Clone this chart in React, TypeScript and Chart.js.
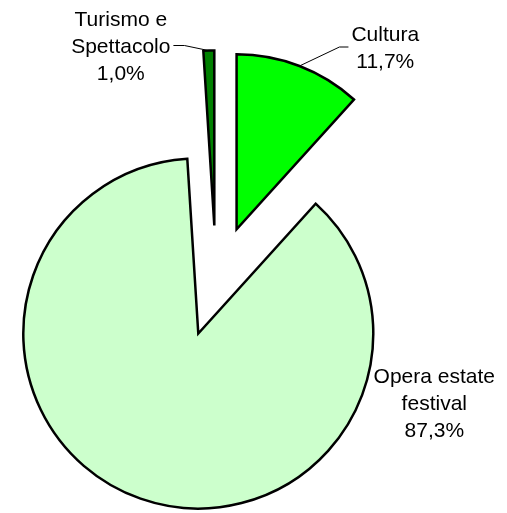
import React, { useEffect, useRef } from "react";
import { Chart, registerables, PieController } from "chart.js";

// ---- data ----
const categories = ["Cultura", "Opera estate festival", "Turismo e Spettacolo"];
const labelLines = [["Cultura"], ["Opera estate", "festival"], ["Turismo e", "Spettacolo"]];
const shares = [11.7, 87.3, 1.0];

// ---- style ----
const colors = ["#00FF00", "#CCFFCC", "#008000"];
const explodeDist = [57, 54, 57]; // px each slice is pulled out of the pie
const FONT = "21px 'Liberation Sans', Arial, Helvetica, sans-serif";
const LINE_H = 27;
// label block placement relative to the pie centre (centre x of text, first baseline)
const labelPlace = [
  { dx: 169.2, dy: -241.5, leader: "left" },
  { dx: 218.2, dy: 100.5, leader: null },
  { dx: -95.3, dy: -256.5, leader: "right" },
];

// Pie controller that pulls each slice outward along its mid angle
class ExplodedPieController extends (PieController as any) {
  static id = "explodedPie";
  updateElements(arcs: any[], start: number, count: number, mode: any) {
    super.updateElements(arcs, start, count, mode);
    const dist = (this as any).getDataset().explode || [];
    for (let i = start; i < start + count; i++) {
      const arc = arcs[i];
      const mid = (arc.startAngle + arc.endAngle) / 2;
      const d = dist[i] || 0;
      arc.x += Math.cos(mid) * d;
      arc.y += Math.sin(mid) * d;
    }
  }
}

Chart.register(...registerables, ExplodedPieController as any);

function fmt(v: number) {
  return v.toFixed(1).replace(".", ",") + "%";
}

const labelPlugin = {
  id: "pieLabels",
  afterDatasetsDraw(chart: any) {
    const ctx = chart.ctx as CanvasRenderingContext2D;
    const meta = chart.getDatasetMeta(0);
    const ca = chart.chartArea;
    const cx = (ca.left + ca.right) / 2;
    const cy = (ca.top + ca.bottom) / 2;
    ctx.save();
    ctx.font = FONT;
    ctx.fillStyle = "#000";
    ctx.strokeStyle = "#000";
    ctx.lineWidth = 1;
    ctx.textAlign = "center";
    ctx.textBaseline = "alphabetic";
    meta.data.forEach((arc: any, i: number) => {
      const { startAngle, endAngle, outerRadius, x, y } = arc;
      const mid = (startAngle + endAngle) / 2;
      const edgeX = x + Math.cos(mid) * outerRadius;
      const edgeY = y + Math.sin(mid) * outerRadius;
      const lines = [...labelLines[i], fmt(shares[i])];
      const p = labelPlace[i];
      const tx = cx + p.dx;
      const ty0 = cy + p.dy;
      lines.forEach((s, k) => ctx.fillText(s, tx, ty0 + k * LINE_H));
      if (p.leader) {
        const w = Math.max(...lines.map((s) => ctx.measureText(s).width));
        const midY = ty0 + ((lines.length - 1) * LINE_H) / 2 - 7.5;
        const endX = p.leader === "left" ? tx - w / 2 - 3 : tx + w / 2 + 3;
        const elbowX = p.leader === "left" ? endX - 9 : endX + 11;
        ctx.beginPath();
        ctx.moveTo(edgeX, edgeY);
        ctx.lineTo(elbowX, midY);
        ctx.lineTo(endX, midY);
        ctx.stroke();
      }
    });
    ctx.restore();
  },
};

export default function App() {
  const ref = useRef<HTMLCanvasElement>(null);
  useEffect(() => {
    if (!ref.current) return;
    const chart = new Chart(ref.current, {
      type: "explodedPie" as any,
      data: {
        labels: categories,
        datasets: [
          {
            data: shares,
            explode: explodeDist,
            backgroundColor: colors,
            borderColor: "#000000",
            borderWidth: 2.5,
            borderJoinStyle: "miter",
            offset: 0,
            hoverOffset: 0,
          } as any,
        ],
      },
      options: {
        responsive: false,
        animation: false,
        radius: 175,
        layout: { padding: { left: 0, right: 74.8, top: 52, bottom: 0 } },
        plugins: {
          legend: { display: false },
          tooltip: { enabled: false },
        },
        events: [],
      } as any,
      plugins: [labelPlugin],
    });
    return () => chart.destroy();
  }, []);
  return (
    <div style={{ position: "absolute", left: 0, top: 0, width: 507, height: 513, background: "#fff" }}>
      <canvas ref={ref} width={507} height={513} />
    </div>
  );
}
